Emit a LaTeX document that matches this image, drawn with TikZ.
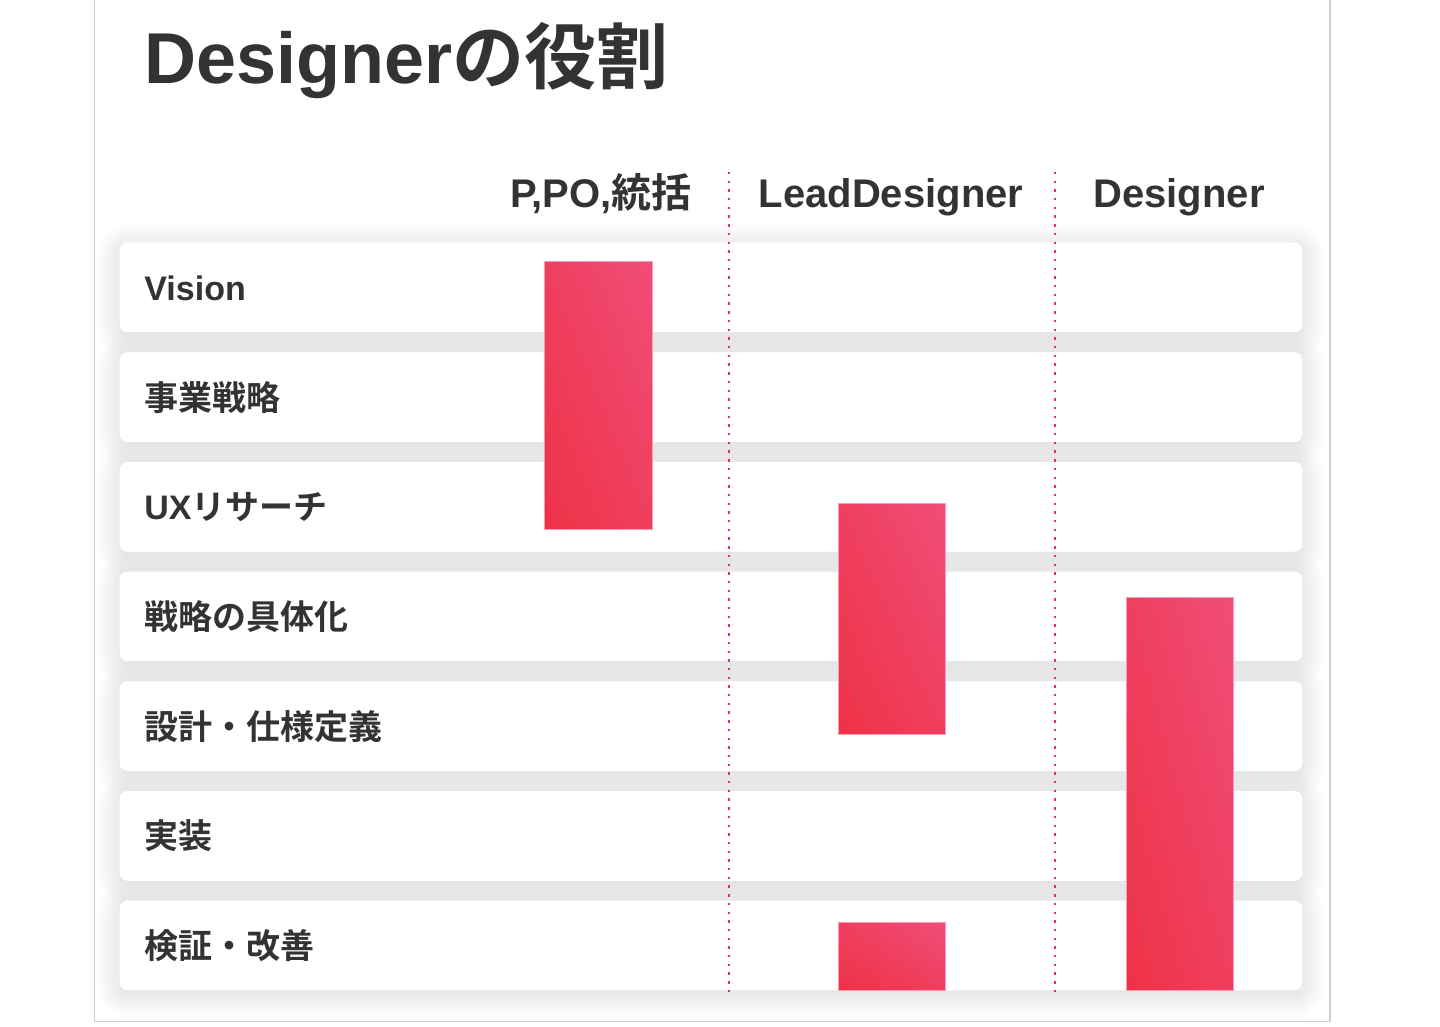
\documentclass[tikz,border=0pt]{standalone}
\usepackage{fontspec}
\setmainfont{Liberation Sans}
\newfontfamily\jp{Noto Sans CJK JP}[BoldFont={Noto Sans CJK JP Bold}]
\usepackage{tikz}
\usetikzlibrary{shadows.blur,shadings}
\definecolor{inkgray}{RGB}{51,51,51}
\definecolor{framegray}{RGB}{206,206,206}
\definecolor{barhot}{RGB}{238,50,70}
\definecolor{barmid}{RGB}{239,63,94}
\definecolor{barpink}{RGB}{240,77,120}
\definecolor{dotred}{RGB}{232,50,74}

\begin{document}
\begin{tikzpicture}[x=0.5pt, y=-0.5pt,
  rowbox/.style={fill=white, rounded corners=4pt, minimum width=591pt, minimum height=44.5pt, inner sep=0pt,
    blur shadow={shadow xshift=0pt, shadow yshift=-2pt, shadow blur radius=12pt, shadow blur steps=14, shadow opacity=18}},
  rowlabel/.style={anchor=base west, text=inkgray, font=\fontsize{17}{20}\selectfont\bfseries, inner sep=0pt},
  colhead/.style={anchor=base, text=inkgray, font=\fontsize{20}{24}\selectfont\bfseries, inner sep=0pt},
  rolebar/.style={lower left=barhot, upper right=barpink, upper left=barmid, lower right=barmid,
    draw=barpink!55!white, line width=0.5pt},
  divider/.style={dotred, line width=1.2pt, dash pattern=on 1.2pt off 3.15pt}
]
\useasboundingbox (0,0) rectangle (1440,1027);
% panel frame
\draw[framegray, line width=0.75pt] (94.5,0) -- (94.5,1021.5) -- (1330,1021.5) -- (1330,0);

% title and column heads
\node[anchor=base west, text=inkgray, font=\fontsize{36}{40}\selectfont\bfseries, inner sep=0pt] (title) at (144,84) {Designer{\jp の役割}};
\node[colhead] (hppo) at (601,208) {P,PO,{\jp 統括}};
\node[colhead] (hlead) at (891,208) {LeadDesigner};
\node[colhead] (hdes) at (1179,208) {Designer};

% rows
\foreach \i in {1,...,7}
  \node[rowbox] (row\i) at (711,{287.5+109.67*(\i-1)}) {};
\foreach \lab [count=\i] in {Vision, {\jp 事業戦略}, {UX\jp リサーチ}, {\jp 戦略の具体化}, {\jp 設計・仕様定義}, {\jp 実装}, {\jp 検証・改善}} {
  \fill[white, rounded corners=4pt] (row\i.north west) rectangle (row\i.south east);
  \node[rowlabel] (lab\i) at (144,{300.5+109.67*(\i-1)}) {\lab};
}

% dividers
\coordinate (div1top) at (729,172);
\coordinate (div1bot) at (729,992);
\coordinate (div2top) at (1055,172);
\coordinate (div2bot) at (1055,992);
\draw[divider] (div1top) -- (div1bot);
\draw[divider] (div2top) -- (div2bot);

% role bars
\shadedraw[rolebar] (544,262) rectangle (652,529);
\shadedraw[rolebar] (838,503) rectangle (945,734);
\shadedraw[rolebar] (838,922) rectangle (945,990);
\shadedraw[rolebar] (1126,597) rectangle (1233,990);
\end{tikzpicture}
\end{document}
